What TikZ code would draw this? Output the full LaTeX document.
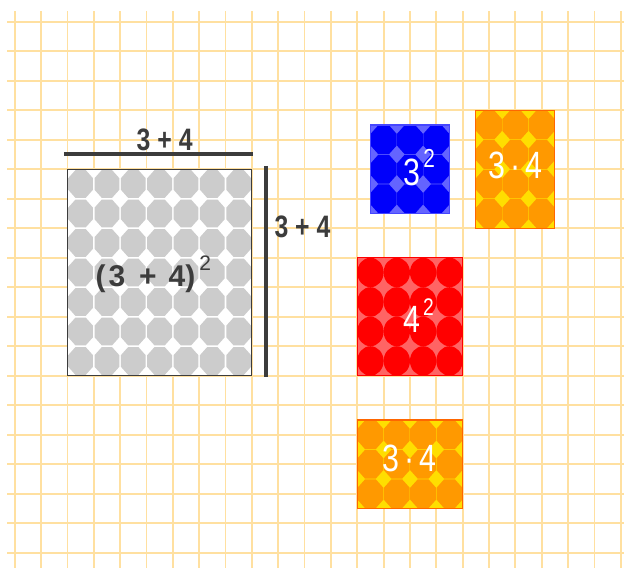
\documentclass[tikz,border=0pt]{standalone}
\usepackage{fontspec}
\setmainfont{Liberation Sans}
\newfontfamily\narrowfont[FakeStretch=0.8]{Liberation Sans}
\usepackage{xcolor}
\usepackage{tikz}
\usetikzlibrary{positioning}

\definecolor{gridline}{RGB}{255,224,160}
\definecolor{inkgray}{RGB}{60,60,60}
\definecolor{dotgray}{RGB}{204,204,204}
\definecolor{bluebg}{RGB}{100,100,255}
\definecolor{bluedot}{RGB}{0,0,250}
\definecolor{blueline}{RGB}{70,70,255}
\definecolor{redbg}{RGB}{255,100,100}
\definecolor{reddot}{RGB}{255,0,0}
\definecolor{yellowbg}{RGB}{255,222,0}
\definecolor{orangedot}{RGB}{255,153,0}
\definecolor{orangeline}{RGB}{255,102,0}

% one octagon: style, x, y, radius
\newcommand{\octcell}[4]{%
  \fill[#1, shift={(#2,#3)}] (22.5:#4) -- (67.5:#4) -- (112.5:#4) -- (157.5:#4)
    -- (202.5:#4) -- (247.5:#4) -- (292.5:#4) -- (337.5:#4) -- cycle;}
% raised small 2
\newcommand{\squaremark}[2]{\raisebox{#1}{\fontsize{#2}{#2}\selectfont\mdseries 2}}

\begin{document}
\begin{tikzpicture}[
    x=26.35pt, y=-29.5pt,
    gridrule/.style={gridline, line width=1.8pt},
    bar/.style={inkgray, line width=4pt},
    darknum/.style={font=\narrowfont\bfseries\fontsize{31}{31}\selectfont, text=inkgray, inner sep=0pt},
    whitenum/.style={font=\narrowfont\fontsize{38}{38}\selectfont, text=white, inner sep=0pt}
]
\useasboundingbox (-0.558,-0.736) rectangle (23.123,18.519);

% Grid paper
\foreach \i in {0,...,23}
  \draw[gridrule] (\i,-0.36) -- (\i,18.519);
\foreach \j in {0,...,18}
  \draw[gridrule] (-0.29,\j) -- (23.123,\j);

% Big grey square (3+4)^2
\coordinate (sq-nw) at (2,5);
\coordinate (sq-se) at (9,12);
\fill[white] (sq-nw) rectangle (sq-se);
\foreach \i in {0,...,6}{
  \foreach \j in {0,...,6}{
    \octcell{dotgray}{2.5+\i}{5.5+\j}{0.51}}}
\draw[inkgray, line width=1pt] (sq-nw) rectangle (sq-se);

% Side bars
\coordinate (top-a) at (1.87,4.48);
\coordinate (top-b) at (9.06,4.48);
\coordinate (side-a) at (9.52,4.89);
\coordinate (side-b) at (9.52,12.05);
\draw[bar] (top-a) -- (top-b);
\draw[bar] (side-a) -- (side-b);

\node[darknum, anchor=base] (top-label) at (5.69,4.36) {3 + 4};
\node[darknum, anchor=base] (side-label) at (10.92,7.33) {3 + 4};
\node[darknum, font=\bfseries\fontsize{30}{30}\selectfont, anchor=base west] (big-label) at (3.06,8.96)
  {(\hspace{3pt}3\hspace{14pt}+\hspace{12pt}4)\hspace{4pt}\squaremark{16pt}{21}};

% Blue 3^2
\begin{scope}
  \clip (13.5,3.5) rectangle (16.5,6.5);
  \fill[bluebg] (13.5,3.5) rectangle (16.5,6.5);
  \foreach \i in {0,...,2}{
    \foreach \j in {0,...,2}{
      \octcell{bluedot}{14+\i}{4+\j}{0.53}}}
\end{scope}
\draw[blueline, line width=1.2pt] (13.5,3.5) rectangle (16.5,6.5);
\node[whitenum, anchor=base west] (blue-label) at (14.75,5.54) {3\hspace{3pt}\squaremark{18pt}{26}};

% Orange 3.4 (upright)
\begin{scope}
  \clip (17.5,3) rectangle (20.5,7);
  \fill[yellowbg] (17.5,3) rectangle (20.5,7);
  \foreach \i in {0,...,2}{
    \foreach \j in {0,...,3}{
      \octcell{orangedot}{18+\i}{3.5+\j}{0.53}}}
\end{scope}
\draw[orangeline, line width=1.2pt] (17.5,3) rectangle (20.5,7);
\node[whitenum, anchor=base] (upright-label) at (19.02,5.30) {3\hspace{5pt}·\hspace{5pt}4};

% Red 4^2
\begin{scope}
  \clip (13,8) rectangle (17,12);
  \fill[redbg] (13,8) rectangle (17,12);
  \foreach \i in {0,...,3}
    \foreach \j in {0,...,3}
      \fill[reddot] (13.5+\i,8.5+\j) circle (0.5);
\end{scope}
\draw[reddot, line width=1.2pt] (13,8) rectangle (17,12);
\node[whitenum, anchor=base west] (red-label) at (14.74,10.55) {4\hspace{3pt}\squaremark{17pt}{24}};

% Orange 3.4 (lying)
\begin{scope}
  \clip (13,13.5) rectangle (17,16.5);
  \fill[yellowbg] (13,13.5) rectangle (17,16.5);
  \foreach \i in {0,...,3}{
    \foreach \j in {0,...,2}{
      \octcell{orangedot}{13.5+\i}{14+\j}{0.53}}}
\end{scope}
\draw[orangeline, line width=1.2pt] (13,13.5) rectangle (17,16.5);
\node[whitenum, anchor=base] (lying-label) at (15.0,15.25) {3\hspace{5pt}·\hspace{5pt}4};
\end{tikzpicture}
\end{document}
